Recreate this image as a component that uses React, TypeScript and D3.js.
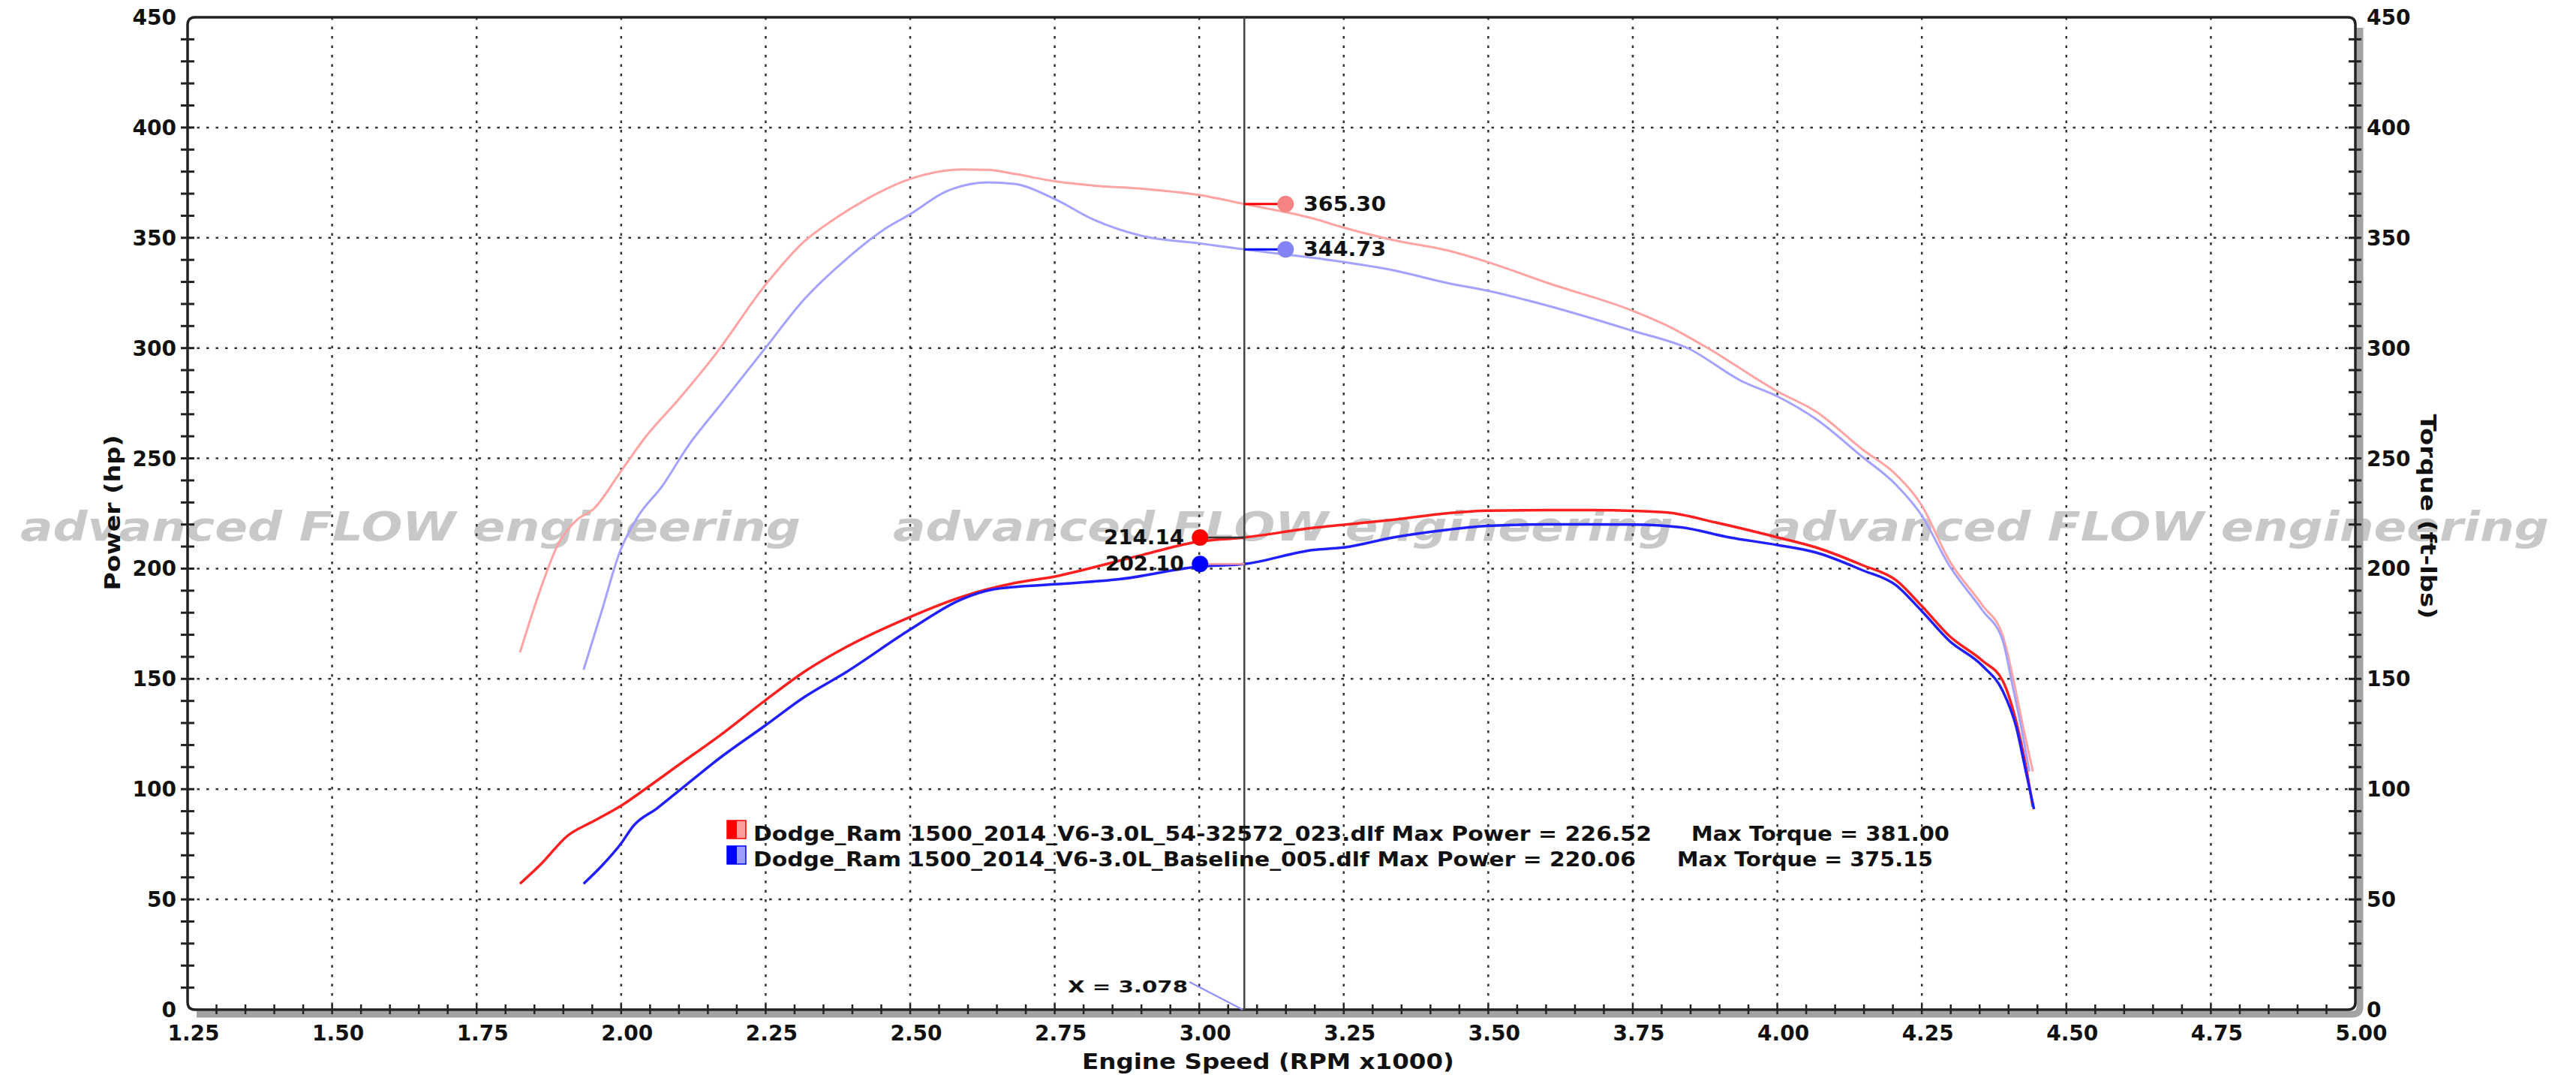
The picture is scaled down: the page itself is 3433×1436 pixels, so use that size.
import React from "react";
import * as d3 from "d3";

// ---------- DATA ----------
const xTickLabels = ["1.25", "1.50", "1.75", "2.00", "2.25", "2.50", "2.75", "3.00", "3.25", "3.50", "3.75", "4.00", "4.25", "4.50", "4.75", "5.00"];
const yTickLabels = ["0", "50", "100", "150", "200", "250", "300", "350", "400", "450"];

// Modified (54-32572) torque, ft-lbs
const modTorqueRpm = [1.825, 1.862, 1.889, 1.921, 1.953, 2.0, 2.044, 2.098, 2.162, 2.25, 2.316, 2.362, 2.425, 2.5, 2.589, 2.635, 2.68, 2.75, 2.816, 2.907, 3.0, 3.078, 3.198, 3.25, 3.337, 3.429, 3.499, 3.603, 3.75, 3.811, 3.881, 4.0, 4.067, 4.147, 4.205, 4.249, 4.297, 4.355, 4.39, 4.407, 4.425, 4.442];
const modTorqueVal = [162, 191.8, 210, 221.5, 227.2, 244.3, 260.3, 276.3, 296.8, 328.8, 348.2, 357.3, 367.6, 376.7, 381.0, 380.8, 379, 375.6, 373.7, 372.1, 369.4, 365.3, 358.7, 354.6, 348.9, 344.3, 339, 329.5, 316.9, 310, 299.8, 280.4, 271.2, 254.1, 242.7, 229, 203.9, 183.3, 169.6, 151.4, 128.5, 108];

// Baseline torque
const baseTorqueRpm = [1.935, 1.966, 1.998, 2.03, 2.071, 2.116, 2.171, 2.25, 2.316, 2.389, 2.462, 2.5, 2.562, 2.635, 2.68, 2.75, 2.816, 2.907, 3.0, 3.078, 3.198, 3.25, 3.337, 3.429, 3.499, 3.603, 3.75, 3.846, 3.939, 4.0, 4.067, 4.147, 4.205, 4.249, 4.297, 4.355, 4.39, 4.407, 4.425, 4.436];
const baseTorqueVal = [154.1, 180.4, 207.8, 224, 237.4, 255.7, 274, 300.2, 321.9, 340.2, 355, 360.7, 371, 375.1, 374.4, 367.6, 358.4, 350.5, 347.5, 344.7, 340.9, 339, 335.2, 329.5, 326, 319.2, 307.8, 299.8, 284.9, 278.1, 267.8, 250.7, 238.1, 224.4, 201.6, 181, 167.3, 146.8, 124, 108];

// Modified power, hp
const modPowerRpm = [1.825, 1.862, 1.907, 1.953, 2.0, 2.044, 2.098, 2.171, 2.25, 2.316, 2.389, 2.5, 2.589, 2.68, 2.75, 2.816, 2.907, 3.0, 3.078, 3.198, 3.25, 3.337, 3.429, 3.499, 3.603, 3.684, 3.75, 3.811, 3.892, 4.0, 4.067, 4.147, 4.205, 4.249, 4.297, 4.355, 4.39, 4.413, 4.43, 4.442];
const modPowerVal = [57.1, 66.2, 78.8, 85.6, 92.5, 100.5, 110.7, 124.4, 140.4, 153.1, 164.4, 178.1, 187.2, 193.4, 196.4, 200.5, 206.6, 212.3, 214.14, 218.5, 219.9, 222.2, 225.1, 226.3, 226.5, 226.5, 226.2, 225.4, 221, 214.2, 209.6, 201.6, 194.8, 183.3, 169.6, 158.2, 149.1, 130.8, 110.3, 92];

// Baseline power
const basePowerRpm = [1.935, 1.966, 2.0, 2.021, 2.062, 2.116, 2.171, 2.25, 2.316, 2.389, 2.5, 2.589, 2.644, 2.75, 2.862, 3.0, 3.078, 3.198, 3.25, 3.337, 3.429, 3.499, 3.603, 3.75, 3.834, 3.916, 4.0, 4.067, 4.147, 4.205, 4.249, 4.297, 4.355, 4.39, 4.413, 4.43, 4.444];
const basePowerVal = [57.1, 65.1, 75.4, 83.3, 91.3, 102.7, 114.2, 129, 141.6, 153, 172.4, 186.1, 190.6, 192.9, 195.2, 200.9, 202.1, 208.5, 209.6, 214.2, 217.6, 219.4, 220.06, 220.0, 218.7, 214.2, 210.7, 207.3, 199.3, 192.5, 181, 167.4, 155.9, 144.5, 128.5, 108, 90.9];

const cursorRpm = 3.078;
const cursorLabel = "X = 3.078";
const cursorModTorque = 365.3;
const cursorBaseTorque = 344.73;
const cursorModPower = 214.14;
const cursorBasePower = 202.1;

const legendNames = ["Dodge_Ram 1500_2014_V6-3.0L_54-32572_023.dlf", "Dodge_Ram 1500_2014_V6-3.0L_Baseline_005.dlf"];
const legendMaxPower = ["226.52", "220.06"];
const legendMaxTorque = ["381.00", "375.15"];

const watermark = "advanced FLOW engineering";

// ---------- LAYOUT / STYLE ----------
const W = 3433;
const H = 1436;
const L = 250, R = 3139, T = 23, B = 1345;
const FONT = "'DejaVu Sans', Verdana, sans-serif";

const RED = "#ff1f1f";
const BLUE = "#1f1fff";
const PINK = "#ffa3a3";
const LBLUE = "#a3a3ff";

export default function App() {
  const x = d3.scaleLinear().domain([1.25, 5.0]).range([L, R]);
  const y = d3.scaleLinear().domain([0, 450]).range([B, T]);

  const mkLine = (xs: number[], ys: number[]) =>
    d3
      .line<number>()
      .x((_, i) => x(xs[i]))
      .y((d) => y(d))
      .curve(d3.curveMonotoneX)(ys) || "";

  const r = 10;
  const frame = `M${L},${B - r} L${L},${T + r} Q${L},${T} ${L + r},${T} L${R - r},${T} Q${R},${T} ${R},${T + r} L${R},${B - r} Q${R},${B} ${R - r},${B} L${L + r},${B} Q${L},${B} ${L},${B - r} Z`;
  const so = 6;
  const shadow = `M${R + so},${T + 14} L${R + so},${B + so - r} Q${R + so},${B + so} ${R + so - r},${B + so} L${L + 12},${B + so}`;

  const yMinor = d3.range(10, 450, 10);
  const xMinor = d3.range(1.3, 4.999, 0.05);
  const yGrid = yTickLabels.map(Number).filter((v) => v > 0 && v < 450);
  const xGrid = xTickLabels.map(Number).filter((v) => v > 1.25 && v < 5.0);

  const cx = x(cursorRpm);
  const dotR = 11;
  const rightDotX = cx + 55;
  const leftDotX = cx - 59;

  const wmX = [27, 1190, 2357];

  return (
    <svg
      width={W}
      height={H}
      viewBox={`0 0 ${W} ${H}`}
      style={{ position: "absolute", left: 0, top: 0, background: "#fff" }}
      fontFamily={FONT}
    >
      <rect x={0} y={0} width={W} height={H} fill="#fff" />

      {/* watermark */}
      {wmX.map((wx, i) => (
        <text
          key={"wm" + i}
          x={wx}
          y={720}
          fontSize={54}
          fontWeight="bold"
          fontStyle="italic"
          fill="#c8c8c8"
          textLength={1040}
          lengthAdjust="spacingAndGlyphs"
        >
          {watermark}
        </text>
      ))}

      {/* grid */}
      {yGrid.map((v) => (
        <line key={"gy" + v} x1={L} x2={R} y1={y(v)} y2={y(v)} stroke="#333" strokeWidth={2.5} strokeDasharray="3.5 9" />
      ))}
      {xGrid.map((v) => (
        <line key={"gx" + v} x1={x(v)} x2={x(v)} y1={T} y2={B} stroke="#333" strokeWidth={2.5} strokeDasharray="3.5 9" />
      ))}

      {/* shadow + frame */}
      <path d={shadow} fill="none" stroke="#a3a3a3" strokeWidth={9} />
      <path d={frame} fill="none" stroke="#222" strokeWidth={3.5} />

      {/* ticks */}
      {yMinor.map((v) => (
        <g key={"ty" + v}>
          <line x1={L - 9} x2={L + 9} y1={y(v)} y2={y(v)} stroke="#222" strokeWidth={3} />
          <line x1={R - 9} x2={R + 8} y1={y(v)} y2={y(v)} stroke="#222" strokeWidth={3} />
        </g>
      ))}
      {xMinor.map((v, i) => (
        <line key={"tx" + i} x1={x(v)} x2={x(v)} y1={B - 7} y2={B + 6} stroke="#222" strokeWidth={2.5} />
      ))}

      {/* tick labels */}
      {yTickLabels.map((t) => (
        <g key={"yl" + t}>
          <text x={235} y={y(Number(t)) + 10} fontSize={28} fontWeight="bold" textAnchor="end" fill="#111">
            {t}
          </text>
          <text x={3154} y={y(Number(t)) + 10} fontSize={28} fontWeight="bold" textAnchor="start" fill="#111">
            {t}
          </text>
        </g>
      ))}
      {xTickLabels.map((t) => (
        <text key={"xl" + t} x={x(Number(t)) + 8} y={1386} fontSize={28} fontWeight="bold" textAnchor="middle" fill="#111">
          {t}
        </text>
      ))}

      {/* axis titles */}
      <text x={1690} y={1424} fontSize={28} fontWeight="bold" textAnchor="middle" fill="#111" textLength={496} lengthAdjust="spacingAndGlyphs">
        Engine Speed (RPM x1000)
      </text>
      <text transform="translate(160,683) rotate(-90)" fontSize={28} fontWeight="bold" textAnchor="middle" fill="#111" textLength={207} lengthAdjust="spacingAndGlyphs">
        Power (hp)
      </text>
      <text transform="translate(3226,688) rotate(90)" fontSize={28} fontWeight="bold" textAnchor="middle" fill="#111" textLength={273} lengthAdjust="spacingAndGlyphs">
        Torque (ft-lbs)
      </text>

      {/* curves */}
      <path d={mkLine(modTorqueRpm, modTorqueVal)} fill="none" stroke={PINK} strokeWidth={3} />
      <path d={mkLine(baseTorqueRpm, baseTorqueVal)} fill="none" stroke={LBLUE} strokeWidth={3} />
      <path d={mkLine(modPowerRpm, modPowerVal)} fill="none" stroke={RED} strokeWidth={3.5} />
      <path d={mkLine(basePowerRpm, basePowerVal)} fill="none" stroke={BLUE} strokeWidth={3.5} />

      {/* cursor */}
      <line x1={cx} x2={cx} y1={T} y2={B} stroke="#444" strokeWidth={2.5} />
      <line x1={1585} y1={1308} x2={cx - 2} y2={B} stroke="#8f8fff" strokeWidth={2} />
      <text x={1423} y={1322} fontSize={22} fontWeight="bold" fill="#111" textLength={160} lengthAdjust="spacingAndGlyphs">
        {cursorLabel}
      </text>

      {/* cursor markers: torque (right) */}
      <line x1={cx} x2={rightDotX} y1={y(cursorModTorque)} y2={y(cursorModTorque)} stroke="#ff0000" strokeWidth={3} />
      <circle cx={rightDotX} cy={y(cursorModTorque)} r={dotR} fill="#f58383" />
      <text x={1737} y={y(cursorModTorque) + 9} fontSize={26} fontWeight="bold" fill="#111" textLength={110} lengthAdjust="spacingAndGlyphs">
        {cursorModTorque.toFixed(2)}
      </text>
      <line x1={cx} x2={rightDotX} y1={y(cursorBaseTorque)} y2={y(cursorBaseTorque)} stroke="#0000ff" strokeWidth={3} />
      <circle cx={rightDotX} cy={y(cursorBaseTorque)} r={dotR} fill="#8383f5" />
      <text x={1737} y={y(cursorBaseTorque) + 9} fontSize={26} fontWeight="bold" fill="#111" textLength={110} lengthAdjust="spacingAndGlyphs">
        {cursorBaseTorque.toFixed(2)}
      </text>

      {/* cursor markers: power (left) */}
      <line x1={leftDotX} x2={cx} y1={y(cursorModPower)} y2={y(cursorModPower)} stroke="#333" strokeWidth={2.5} />
      <circle cx={leftDotX} cy={y(cursorModPower)} r={dotR} fill="#ff0000" />
      <text x={1578} y={y(cursorModPower) + 9} fontSize={26} fontWeight="bold" fill="#111" textAnchor="end" textLength={107} lengthAdjust="spacingAndGlyphs">
        {cursorModPower.toFixed(2)}
      </text>
      <line x1={leftDotX} x2={cx} y1={y(cursorBasePower)} y2={y(cursorBasePower)} stroke="#ff9c9c" strokeWidth={2.5} />
      <circle cx={leftDotX} cy={y(cursorBasePower)} r={dotR} fill="#0000ff" />
      <text x={1578} y={y(cursorBasePower) + 9} fontSize={26} fontWeight="bold" fill="#111" textAnchor="end" textLength={105} lengthAdjust="spacingAndGlyphs">
        {cursorBasePower.toFixed(2)}
      </text>

      {/* legend */}
      {legendNames.map((name, i) => {
        const rowY = 1093 + i * 34;
        const solid = i === 0 ? "#ff0000" : "#0000ff";
        const light = i === 0 ? "#ff9c9c" : "#9c9cff";
        return (
          <g key={"lg" + i}>
            <rect x={969} y={rowY} width={13} height={24} fill={solid} />
            <rect x={982} y={rowY} width={12} height={24} fill={light} />
            <rect x={969} y={rowY} width={25} height={24} fill="none" stroke={solid} strokeWidth={1.5} />
            <text x={1004} y={rowY + 27} fontSize={27} fontWeight="bold" fill="#111" textLength={i === 0 ? 1197 : 1176} lengthAdjust="spacingAndGlyphs">
              {`${name} Max Power = ${legendMaxPower[i]}`}
            </text>
            <text x={i === 0 ? 2254 : 2235} y={rowY + 27} fontSize={27} fontWeight="bold" fill="#111" textLength={i === 0 ? 344 : 341} lengthAdjust="spacingAndGlyphs">
              {`Max Torque = ${legendMaxTorque[i]}`}
            </text>
          </g>
        );
      })}
    </svg>
  );
}
